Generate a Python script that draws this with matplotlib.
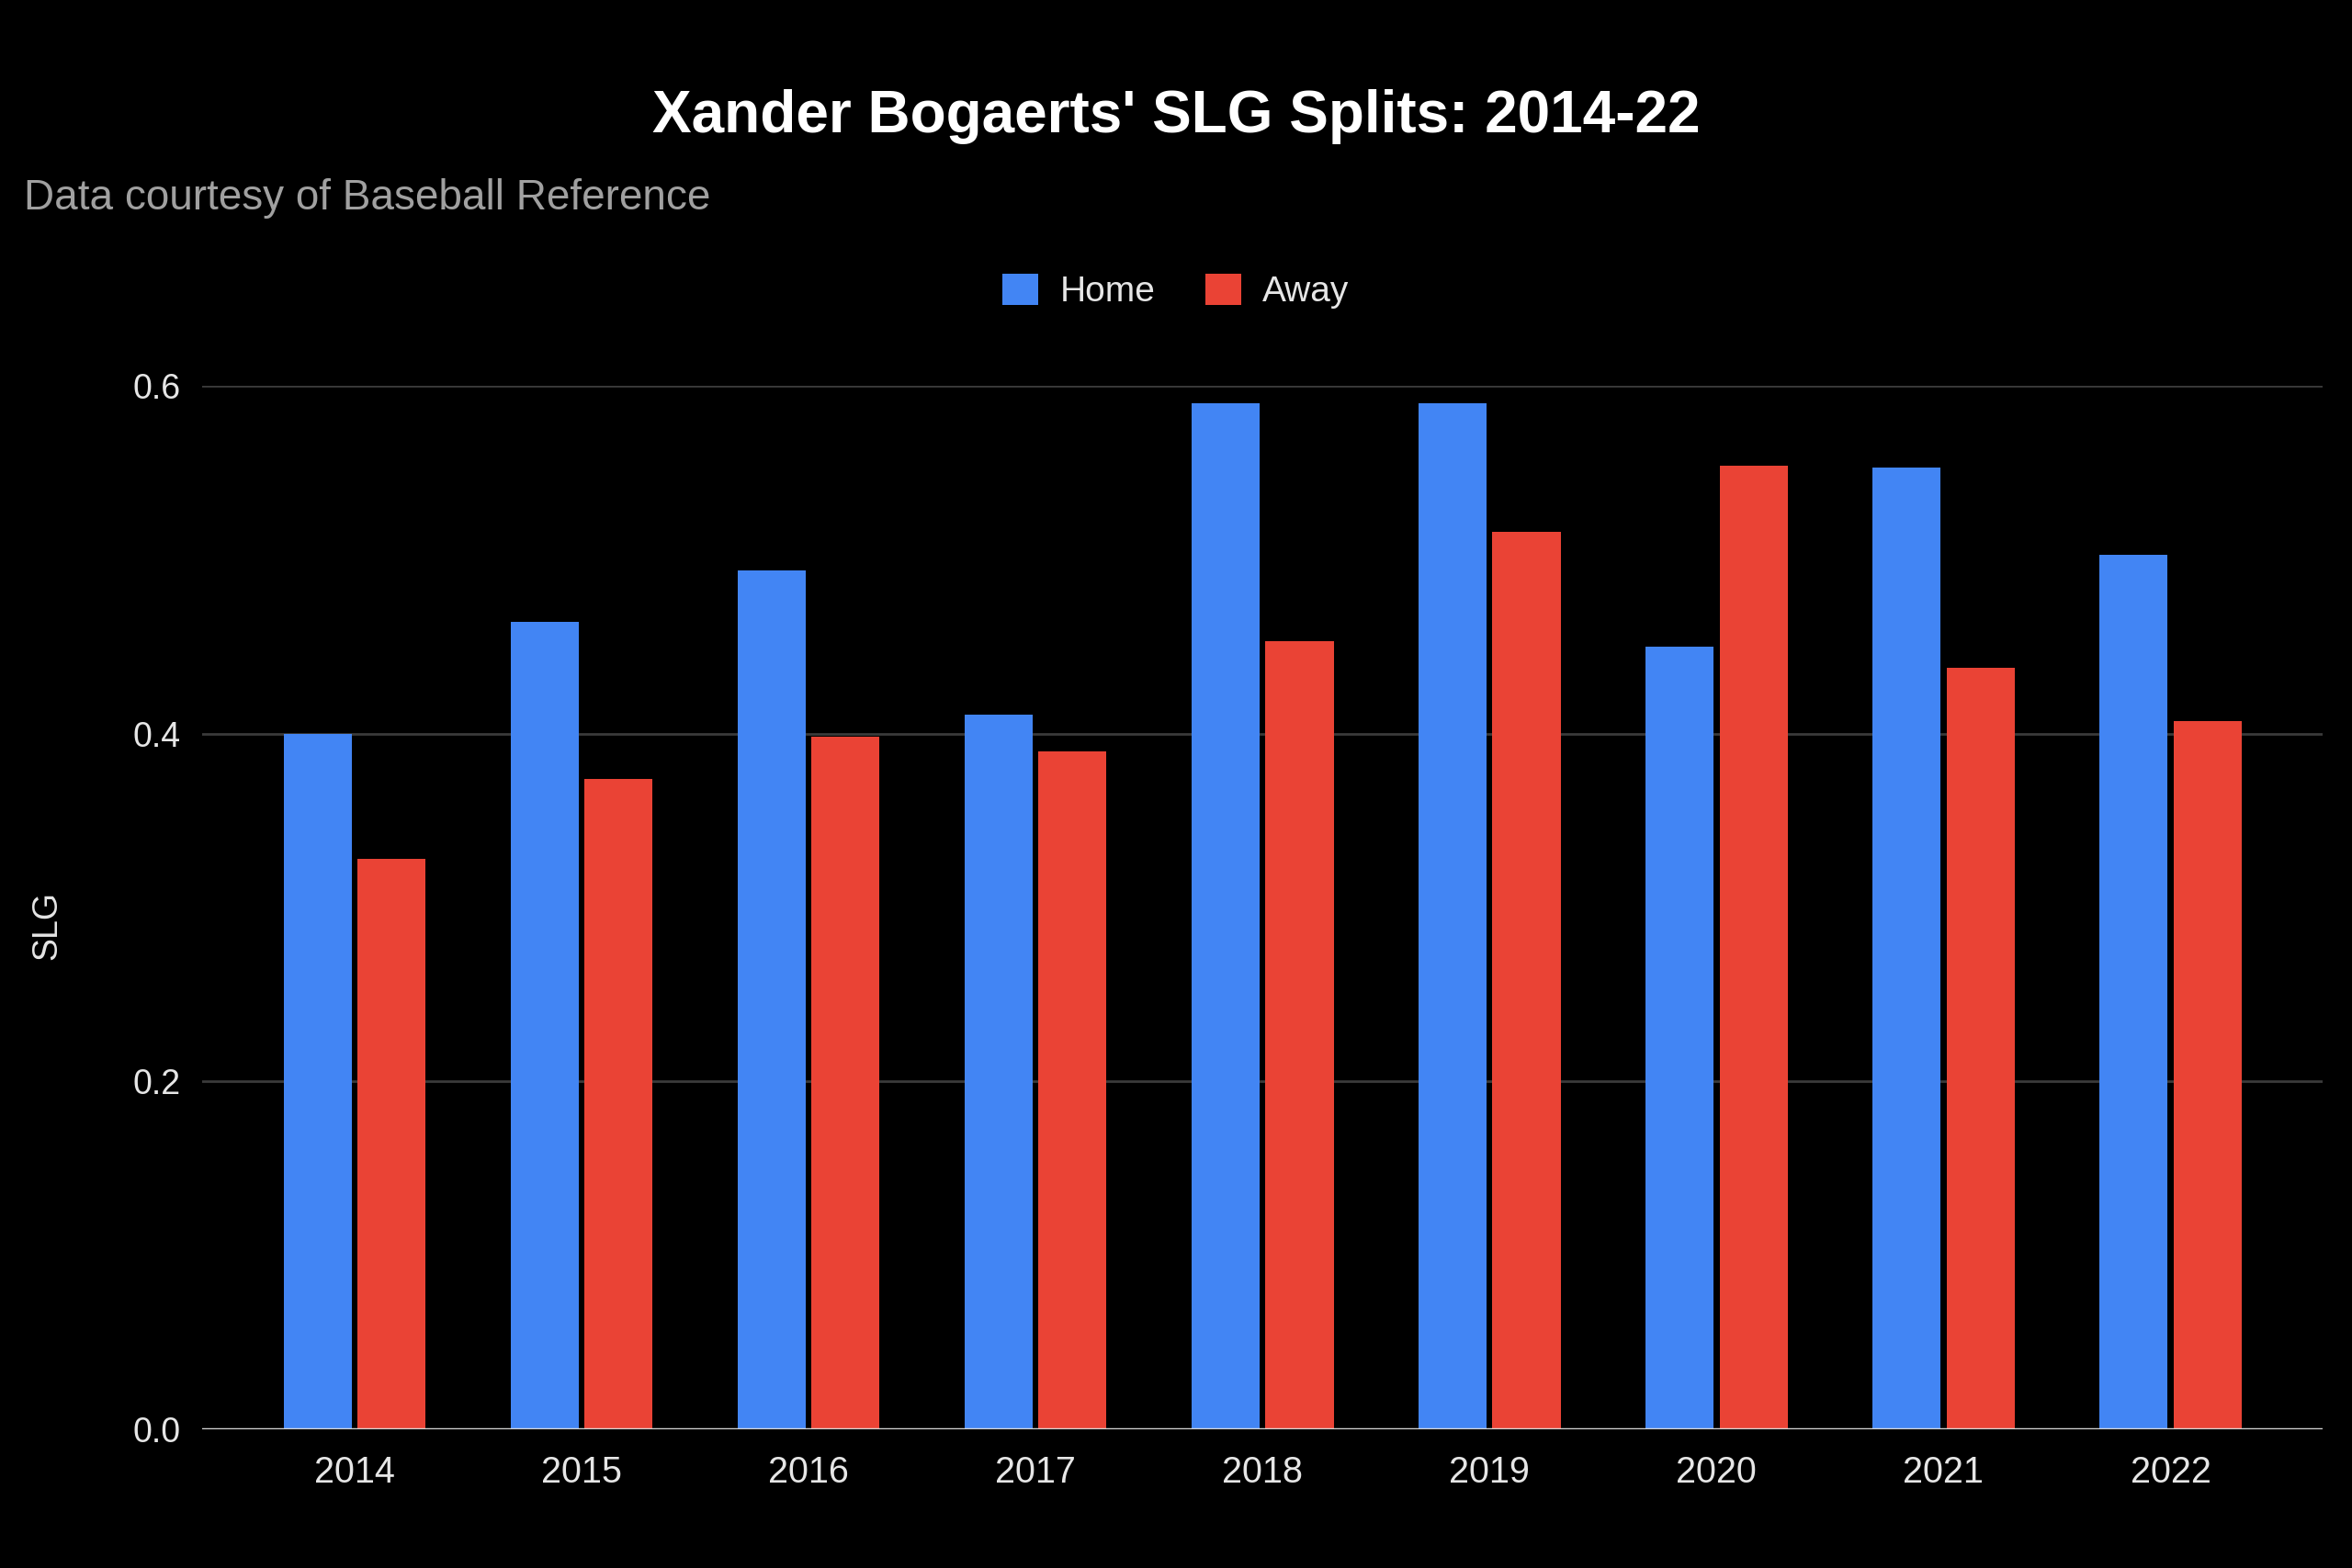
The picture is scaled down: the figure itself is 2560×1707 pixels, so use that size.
import numpy as np
import matplotlib
matplotlib.use("Agg")
import matplotlib.pyplot as plt
from matplotlib.patches import Patch

plt.rcParams["font.family"] = ["Liberation Sans", "DejaVu Sans"]

# data
years = ["2014", "2015", "2016", "2017", "2018", "2019", "2020", "2021", "2022"]
home_slg = [0.400, 0.464, 0.494, 0.411, 0.590, 0.590, 0.450, 0.553, 0.503]
away_slg = [0.328, 0.374, 0.398, 0.390, 0.453, 0.516, 0.554, 0.438, 0.407]
y_ticks = [0.0, 0.2, 0.4, 0.6]

BLUE = "#4285F4"
RED = "#EA4335"
BG = "#000000"
TXT = "#e6e6e6"

fig = plt.figure(figsize=(25.6, 17.07), dpi=100, facecolor=BG)
ax = fig.add_axes([0.0861, 0.0885, 0.9875 - 0.0861, 0.754 - 0.0885])
ax.set_facecolor(BG)

x = np.arange(len(years))
w = 0.30
ax.bar(x - 0.163, home_slg, width=w, color=BLUE, zorder=3)
ax.bar(x + 0.163, away_slg, width=w, color=RED, zorder=3)

ax.set_xlim(-0.67, len(years) - 1 + 0.67)
ax.set_ylim(0, 0.6)
ax.set_yticks(y_ticks)
ax.set_yticklabels([f"{v:.1f}" for v in y_ticks])
ax.set_xticks(x)
ax.set_xticklabels(years)

for v in y_ticks[1:]:
    ax.axhline(v, color="#3a3a3a", linewidth=2, zorder=1)
ax.axhline(0, color="#d8d8d8", linewidth=2.5, zorder=4)

for s in ax.spines.values():
    s.set_visible(False)
ax.tick_params(axis="both", length=0, colors=TXT, labelsize=27)
ax.tick_params(axis="x", labelsize=28.5, pad=20)
ax.tick_params(axis="y", pad=17)

ax.set_ylabel("SLG", color=TXT, fontsize=27)
ax.yaxis.set_label_coords(-0.0655, 0.483)

fig.text(0.5, 1 - 127 / 1707, "Xander Bogaerts' SLG Splits: 2014-22",
         ha="center", va="center", color="white", fontsize=46,
         fontweight="bold")
fig.text(26 / 2560, 1 - 216 / 1707, "Data courtesy of Baseball Reference",
         ha="left", va="center", color="#a0a0a0", fontsize=33)

handles = [Patch(facecolor=BLUE, label="Home"),
           Patch(facecolor=RED, label="Away")]
leg = fig.legend(handles=handles, loc="center", ncol=2,
                 bbox_to_anchor=(0.5, 1 - 317 / 1707), frameon=False,
                 fontsize=28, handlelength=1.0, handleheight=1.0,
                 handletextpad=0.6, columnspacing=1.4)
for t in leg.get_texts():
    t.set_color(TXT)

fig.savefig("out.png", dpi=100, facecolor=BG)
